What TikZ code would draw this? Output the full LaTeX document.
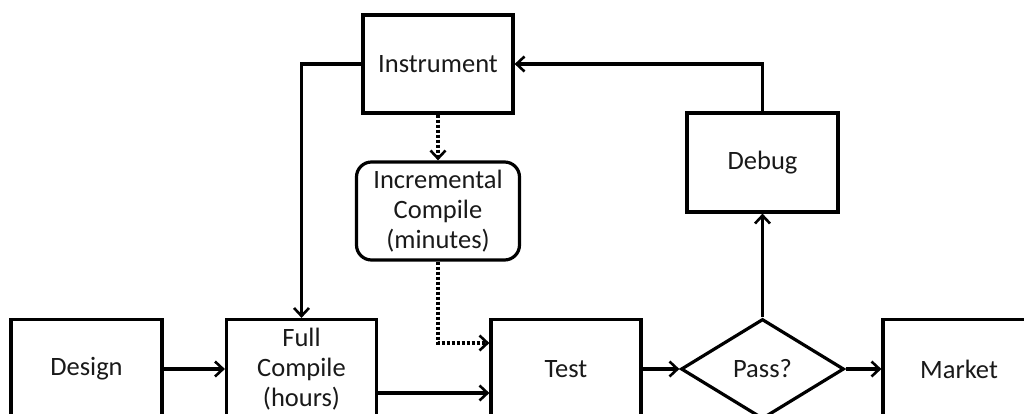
\documentclass[tikz,border=0pt]{standalone}
\usepackage{fontspec}
\setmainfont{Carlito}
\usetikzlibrary{shapes.geometric,arrows.meta}
\begin{document}
\begin{tikzpicture}[x=1pt,y=-1pt,
  every node/.style={font=\fontsize{26.5}{30}\selectfont, align=center, inner sep=0pt, text=black!90},
  blk/.style={draw, line width=3.2pt, minimum width=150pt, minimum height=99pt},
  rblk/.style={blk, rounded corners=15pt, minimum width=163pt},
  dec/.style={draw, line width=3.2pt, diamond, aspect=1.63, minimum width=163pt, minimum height=100pt},
  conn/.style={line width=3.2pt, -{Straight Barb[length=8pt,width=15pt,line width=2.6pt]}},
  dconn/.style={conn, dash pattern=on 3pt off 2pt}
]
\useasboundingbox (0,0) rectangle (1024,414);
\node[blk, minimum width=151pt] (design) at (86.5,369) {Design};
\node[blk] (full) at (301.5,369) {Full\\Compile\\(hours)};
\node[blk] (test) at (566,369) {Test};
\node[dec] (pass) at (762.5,369) {Pass?};
\node[blk, minimum width=152pt] (market) at (959,369) {Market};
\node[blk, minimum height=98pt] (instr) at (438,64) {Instrument};
\node[rblk, minimum height=98pt] (incr) at (438,211) {Incremental\\Compile\\(minutes)};
\node[blk, minimum width=151pt] (debug) at (762.5,162.5) {Debug};

\draw[conn] (design) -- (full);
\draw[conn] ([yshift=-24pt]full.east) -- ([yshift=-24pt]test.west);
\draw[conn] (test) -- (pass);
\draw[conn] (pass) -- (market);
\draw[conn] (pass.north) -- (debug.south);
\draw[conn] (debug.north) |- (instr.east);
\draw[conn] (instr.west) -| (full.north);
\draw[dconn] (instr.south) -- (incr.north);
\draw[dconn] (incr.south) |- ([yshift=26pt]test.west);
\end{tikzpicture}
\end{document}
